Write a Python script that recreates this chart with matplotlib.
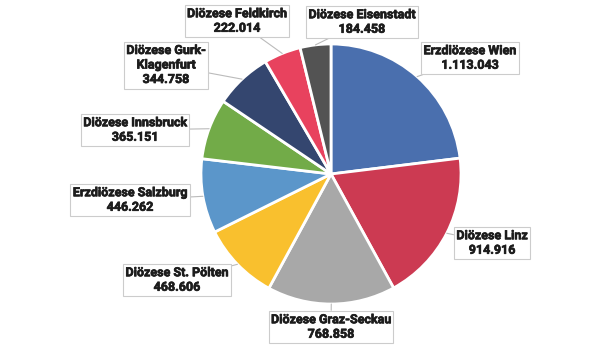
import matplotlib
matplotlib.use("Agg")
import matplotlib.pyplot as plt
import matplotlib.patheffects as pe
import numpy as np

# Mitglieder je Diözese (Uhrzeigersinn ab 12 Uhr)
names = ["Erzdiözese Wien", "Diözese Linz", "Diözese Graz-Seckau",
         "Diözese St. Pölten", "Erzdiözese Salzburg", "Diözese Innsbruck",
         "Diözese Gurk-\nKlagenfurt", "Diözese Feldkirch", "Diözese Eisenstadt"]
values = [1113043, 914916, 768858, 468606, 446262, 365151, 344758, 222014, 184458]
colors = ["#4a6fae", "#cc3a52", "#a8a8a8", "#f9c02e", "#5b96ca",
          "#72ab48", "#34466f", "#e8425e", "#535353"]

# Label-Mittelpunkte in Pixeln (x, y von oben)
label_pos = [(470, 58), (492, 243), (331, 327), (177, 280), (130, 200),
             (135, 130), (166, 65), (237, 21), (362, 22)]

W, H = 600, 351
cx, cy, R = 331, 174, 130


def fmt(v):
    return f"{v:,}".replace(",", ".")


fig = plt.figure(figsize=(6, 3.51), dpi=100)
ax = fig.add_axes([0, 0, 1, 1])

wedges, _ = ax.pie(values, colors=colors, startangle=90, counterclock=False,
                   center=(cx, H - cy), radius=R, explode=[0.025] * len(values),
                   wedgeprops=dict(edgecolor="white", linewidth=2))
ax.set_xlim(0, W)
ax.set_ylim(0, H)
ax.set_aspect("equal")
ax.axis("off")

for w, name, v, (lx, ly) in zip(wedges, names, values, label_pos):
    mid = np.deg2rad((w.theta1 + w.theta2) / 2)
    wx, wy = w.center
    px = wx + R * np.cos(mid)
    py = wy + R * np.sin(mid)
    t = ax.annotate(f"{name}\n{fmt(v)}", xy=(px, py), xytext=(lx, H - ly),
                    ha="center", va="center", fontsize=9, fontweight="bold",
                    family=["Roboto", "DejaVu Sans"], color="#1c1c1c",
                    linespacing=1.15,
                    bbox=dict(boxstyle="square,pad=0.2", fc="white",
                              ec="#cccccc", lw=0.8),
                    arrowprops=dict(arrowstyle="-", color="#bbbbbb", lw=0.8,
                                    shrinkA=0, shrinkB=0))
    t.set_path_effects([pe.withStroke(linewidth=0.5, foreground="#1c1c1c")])

fig.savefig("out.png", dpi=100, facecolor="white")
